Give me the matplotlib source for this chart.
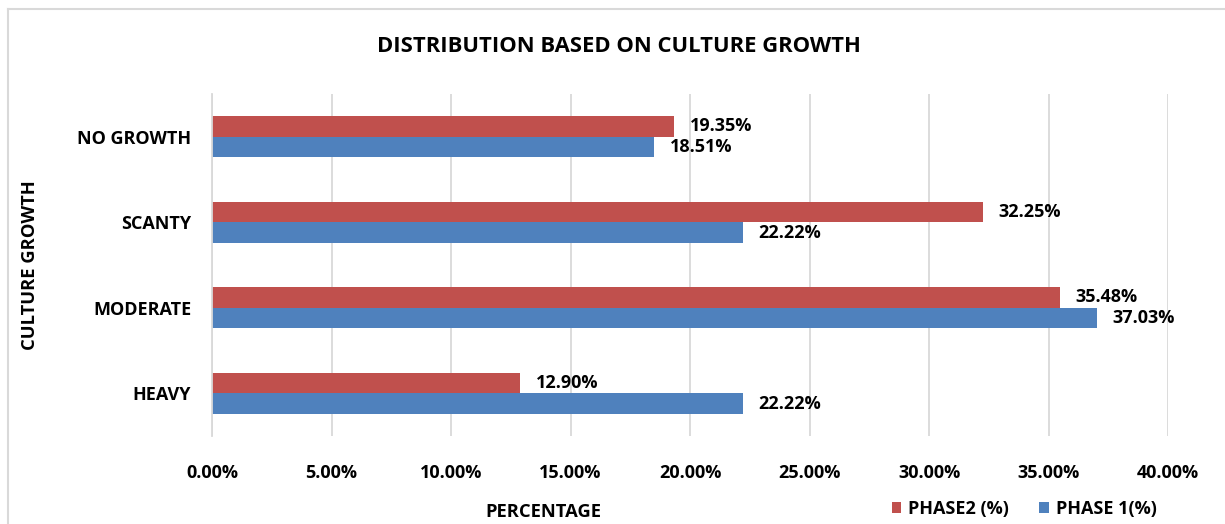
import matplotlib.pyplot as plt
from matplotlib.lines import Line2D
from matplotlib.ticker import FuncFormatter
import numpy as np

# culture growth categories, top to bottom
categories = ["NO GROWTH", "SCANTY", "MODERATE", "HEAVY"]
phase2 = [19.35, 32.25, 35.48, 12.90]
phase1 = [18.51, 22.22, 37.03, 22.22]

RED = "#c0504d"
BLUE = "#4f81bd"

plt.rcParams["font.family"] = ["Open Sans", "DejaVu Sans"]
plt.rcParams["font.weight"] = "bold"

fig = plt.figure(figsize=(12.25, 5.24), dpi=100)
ax = fig.add_axes([212 / 1225, 1 - 436 / 524, (1168 - 212) / 1225, (436 - 94) / 524])

y = np.arange(len(categories))
h = 0.24
b2 = ax.barh(y - h / 2, phase2, height=h, color=RED, label="PHASE2 (%)", zorder=3)
b1 = ax.barh(y + h / 2, phase1, height=h, color=BLUE, label="PHASE 1(%)", zorder=3)

for bars, vals in ((b2, phase2), (b1, phase1)):
    ax.bar_label(bars, labels=[f"{v:.2f}%" for v in vals], padding=11,
                 fontsize=13, fontweight="bold", color="#000000")

ax.set_ylim(3.5, -0.5)
ax.set_xlim(0, 40)
ax.set_xticks(np.arange(0, 41, 5))
ax.xaxis.set_major_formatter(FuncFormatter(lambda v, _: f"{v:.2f}%"))
ax.set_yticks(y)
ax.set_yticklabels(categories)
ax.tick_params(axis="both", length=0, labelsize=13)
ax.tick_params(axis="x", pad=20)
ax.tick_params(axis="y", pad=15)

ax.grid(axis="x", color="#d9d9d9", linewidth=1.3, zorder=0)
for side in ("top", "right", "bottom"):
    ax.spines[side].set_visible(False)
ax.spines["left"].set_color("#d9d9d9")
ax.spines["left"].set_linewidth(1.3)
ax.spines["left"].set_zorder(4)

fig.text(619 / 1225, 1 - 46 / 524, "DISTRIBUTION BASED ON CULTURE GROWTH",
         ha="center", va="center", fontsize=15.8, fontweight="bold")
fig.text(543 / 1225, 1 - 512 / 524, "PERCENTAGE", ha="center", va="center",
         fontsize=13.2, fontweight="bold")
fig.text(30 / 1225, 1 - 265 / 524, "CULTURE GROWTH", ha="center", va="center",
         rotation=90, fontsize=13.2, fontweight="bold")

ax.legend(handles=[b2, b1], loc="center", bbox_to_anchor=(1024 / 1225, 1 - 509 / 524),
          bbox_transform=fig.transFigure, ncol=2, frameon=False, fontsize=13,
          handlelength=0.55, handleheight=0.55, handletextpad=0.35, columnspacing=1.7)

# outer chart frame
fig.add_artist(Line2D([8 / 1225, 1], [1 - 9 / 524, 1 - 9 / 524], color="#d9d9d9", lw=1.5))
fig.add_artist(Line2D([8 / 1225, 8 / 1225], [0, 1 - 9 / 524], color="#d9d9d9", lw=1.5))

fig.savefig("out.png", dpi=100)
